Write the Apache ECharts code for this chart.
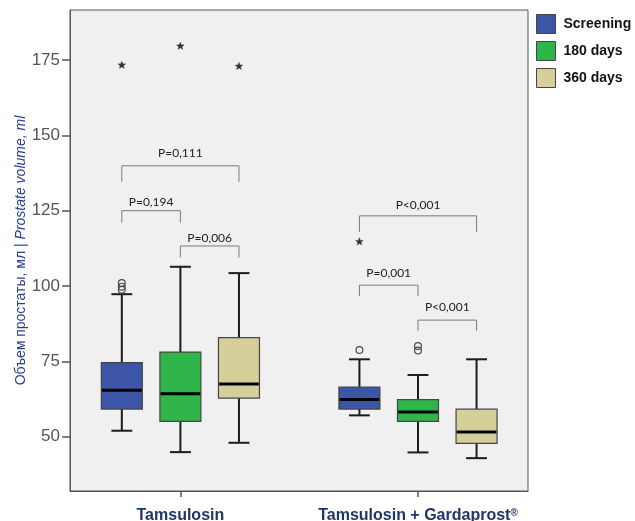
<!DOCTYPE html>
<html>
<head>
<meta charset="utf-8">
<script src="https://cdn.jsdelivr.net/npm/echarts@6/dist/echarts.min.js"></script>
<style>
html,body{margin:0;padding:0;background:#fff;}
#chart{width:635px;height:521px;}
</style>
</head>
<body>
<div id="chart"></div>
<script>
// ---------- data ----------
const groups = ['Tamsulosin', 'Tamsulosin + Gardaprost®'];
const seriesNames = ['Screening', '180 days', '360 days'];
const seriesColors = ['#3D55A6', '#2FB64B', '#D5D09A'];
// [min, Q1, median, Q3, max] for each group
const screeningBox = [[52.0, 59.2, 65.4, 74.6, 97.3], [57.1, 59.2, 62.4, 66.5, 75.7]];
const days180Box   = [[44.9, 55.1, 64.3, 78.1, 106.4], [44.8, 55.1, 58.2, 62.3, 70.5]];
const days360Box   = [[48.0, 62.8, 67.5, 82.9, 104.3], [42.9, 47.8, 51.6, 59.2, 75.7]];
// outliers: [groupIndex, seriesIndex, value]
const outlierCircles = [[0, 0, 98.8], [0, 0, 99.8], [0, 0, 101.0], [1, 0, 78.8], [1, 1, 78.6], [1, 1, 80.1]];
const outlierStars = [[0, 0, 173.3], [0, 1, 179.6], [0, 2, 172.9], [1, 0, 114.7]];
// significance brackets
const bracketLabels = ['P=0,111', 'P=0,194', 'P=0,006', 'P<0,001', 'P=0,001', 'P<0,001'];
const bracketGroup  = [0, 0, 0, 1, 1, 1];
const bracketFrom   = [0, 0, 1, 0, 0, 1];
const bracketTo     = [2, 1, 2, 2, 1, 2];
const bracketTop    = [139.9, 125.0, 113.3, 123.3, 100.3, 88.7];
const bracketFoot   = [134.6, 121.1, 109.5, 118.0, 96.7, 85.2];
const bracketText   = [144.0, 127.7, 116.0, 126.9, 104.2, 92.9];
const yTicks = [50, 75, 100, 125, 150, 175];

// ---------- rendering ----------
const boxSets = [screeningBox, days180Box, days360Box];
const OFFSET = 0.2465;     // horizontal offset of a box within group (axis units)
const BOX_W = 0.1725;      // box width (axis units)
const CAP_W = 0.088;       // whisker cap width (axis units)
const offsets = [-OFFSET, 0, OFFSET];

function boxRender(sIdx) {
  return function (params, api) {
    const g = api.value(0);
    const xv = g + offsets[sIdx];
    const unit = api.size([1, 0])[0];
    const x = api.coord([xv, api.value(3)])[0];
    const yMin = api.coord([xv, api.value(1)])[1];
    const yQ1 = api.coord([xv, api.value(2)])[1];
    const yMed = api.coord([xv, api.value(3)])[1];
    const yQ3 = api.coord([xv, api.value(4)])[1];
    const yMax = api.coord([xv, api.value(5)])[1];
    const bw = BOX_W * unit, cw = CAP_W * unit;
    const ws = { stroke: '#1c1c1c', lineWidth: 2 };
    return {
      type: 'group',
      children: [
        { type: 'line', shape: { x1: x, y1: yMax, x2: x, y2: yQ3 }, style: ws },
        { type: 'line', shape: { x1: x, y1: yQ1, x2: x, y2: yMin }, style: ws },
        { type: 'line', shape: { x1: x - cw / 2, y1: yMax, x2: x + cw / 2, y2: yMax }, style: ws },
        { type: 'line', shape: { x1: x - cw / 2, y1: yMin, x2: x + cw / 2, y2: yMin }, style: ws },
        { type: 'rect', shape: { x: x - bw / 2, y: yQ3, width: bw, height: yQ1 - yQ3 },
          style: { fill: seriesColors[sIdx], stroke: '#454545', lineWidth: 1.2 } },
        { type: 'line', shape: { x1: x - bw / 2 + 0.6, y1: yMed, x2: x + bw / 2 - 0.6, y2: yMed },
          style: { stroke: '#000', lineWidth: 3 } }
      ]
    };
  };
}

function starPoints(cx, cy, R, r) {
  const pts = [];
  for (let i = 0; i < 10; i++) {
    const a = -Math.PI / 2 + i * Math.PI / 5;
    const rad = i % 2 === 0 ? R : r;
    pts.push([cx + rad * Math.cos(a), cy + rad * Math.sin(a)]);
  }
  return pts;
}

const boxSeries = seriesNames.map(function (name, sIdx) {
  return {
    type: 'custom',
    name: name,
    coordinateSystem: 'cartesian2d',
    itemStyle: { color: seriesColors[sIdx], borderColor: '#444', borderWidth: 1 },
    encode: { x: 0, y: [1, 2, 3, 4, 5] },
    data: boxSets[sIdx].map(function (b, gi) { return [gi + 1].concat(b); }),
    renderItem: boxRender(sIdx),
    silent: true,
    z: 3
  };
});

const outlierData = outlierCircles.map(function (o) { return [o[0] + 1, o[1], o[2], 0]; })
  .concat(outlierStars.map(function (o) { return [o[0] + 1, o[1], o[2], 1]; }));

const outlierSeries = {
  type: 'custom',
  name: 'outliers',
  coordinateSystem: 'cartesian2d',
  encode: { x: 0, y: 2 },
  data: outlierData,
  silent: true,
  z: 4,
  renderItem: function (params, api) {
    const xv = api.value(0) + offsets[api.value(1)];
    const p = api.coord([xv, api.value(2)]);
    if (api.value(3) === 0) {
      return { type: 'circle', shape: { cx: p[0], cy: p[1], r: 3.4 },
        style: { fill: 'none', stroke: '#4a4a4a', lineWidth: 1.2 } };
    }
    return { type: 'polygon', shape: { points: starPoints(p[0], p[1], 4.0, 1.7) },
      style: { fill: '#333', stroke: '#333', lineWidth: 0.4 } };
  }
};

const bracketSeries = {
  type: 'custom',
  name: 'brackets',
  coordinateSystem: 'cartesian2d',
  encode: { x: 0, y: 3 },
  data: bracketGroup.map(function (g, i) {
    return [g + 1, bracketFrom[i], bracketTo[i], bracketTop[i], bracketFoot[i], bracketText[i]];
  }),
  silent: true,
  z: 5,
  renderItem: function (params, api) {
    const g = api.value(0);
    const x1 = api.coord([g + offsets[api.value(1)], api.value(3)])[0];
    const x2 = api.coord([g + offsets[api.value(2)], api.value(3)])[0];
    const yTop = api.coord([g, api.value(3)])[1];
    const yFoot = api.coord([g, api.value(4)])[1];
    const yTxt = api.coord([g, api.value(5)])[1];
    return {
      type: 'group',
      children: [
        { type: 'polyline', shape: { points: [[x1, yFoot], [x1, yTop], [x2, yTop], [x2, yFoot]] },
          style: { fill: 'none', stroke: '#7a7a7a', lineWidth: 1 } },
        { type: 'text', style: { text: bracketLabels[params.dataIndex], x: (x1 + x2) / 2, y: yTxt,
          align: 'center', verticalAlign: 'middle', font: '12px Lato', fill: '#222' } }
      ]
    };
  }
};

const chart = echarts.init(document.getElementById('chart'), null, { renderer: 'canvas' });
chart.setOption({
  backgroundColor: '#ffffff',
  animation: false,
  grid: {
    left: 70, right: 107, top: 10, bottom: 30,
    outerBoundsMode: 'none',
    show: true, backgroundColor: '#F0F0F0', borderColor: '#555', borderWidth: 1
  },
  legend: {
    orient: 'vertical', left: 536, top: 14, padding: 0,
    icon: 'rect', itemWidth: 19, itemHeight: 19, itemGap: 7,
    data: seriesNames,
    itemStyle: { borderColor: '#444', borderWidth: 1 },
    textStyle: { fontFamily: 'Liberation Sans', fontSize: 14, fontWeight: 'bold', color: '#111', padding: [0, 0, 0, 3] }
  },
  xAxis: {
    type: 'value', min: 0.5354, max: 2.463,
    splitLine: { show: false },
    axisLine: { show: true, lineStyle: { color: '#555', width: 1 } },
    axisTick: { show: true, customValues: [1, 2], length: 6, lineStyle: { color: '#555', width: 1.5 } },
    axisLabel: {
      customValues: [1, 2], margin: 17,
      formatter: function (v) {
        return v === 1 ? '{b|' + groups[0] + '}' : '{b|' + groups[1].replace('®', '') + '}{s|®}';
      },
      rich: {
        b: { fontFamily: 'Liberation Sans', fontSize: 16, fontWeight: 'bold', color: '#1F3766' },
        s: { fontFamily: 'Liberation Sans', fontSize: 10, fontWeight: 'bold', color: '#1F3766', verticalAlign: 'top', padding: [0, 0, 6, 0] }
      }
    }
  },
  yAxis: {
    type: 'value', min: 32, max: 191.6,
    name: '{a|Объем простаты, мл | }{b|Prostate volume, ml}',
    nameLocation: 'middle', nameGap: 42, nameMoveOverlap: false,
    nameTextStyle: {
      rich: {
        a: { fontFamily: 'Liberation Sans', fontSize: 14, color: '#283F8F' },
        b: { fontFamily: 'Liberation Sans', fontSize: 14, color: '#283F8F', fontStyle: 'italic' }
      }
    },
    splitLine: { show: false },
    axisLine: { show: true, lineStyle: { color: '#555', width: 1 } },
    axisTick: { show: true, customValues: yTicks, length: 8, lineStyle: { color: '#555', width: 1.5 } },
    axisLabel: { customValues: yTicks, margin: 10, fontFamily: 'Liberation Sans', fontSize: 17, color: '#555' }
  },
  series: boxSeries.concat([outlierSeries, bracketSeries])
});
</script>
</body>
</html>
